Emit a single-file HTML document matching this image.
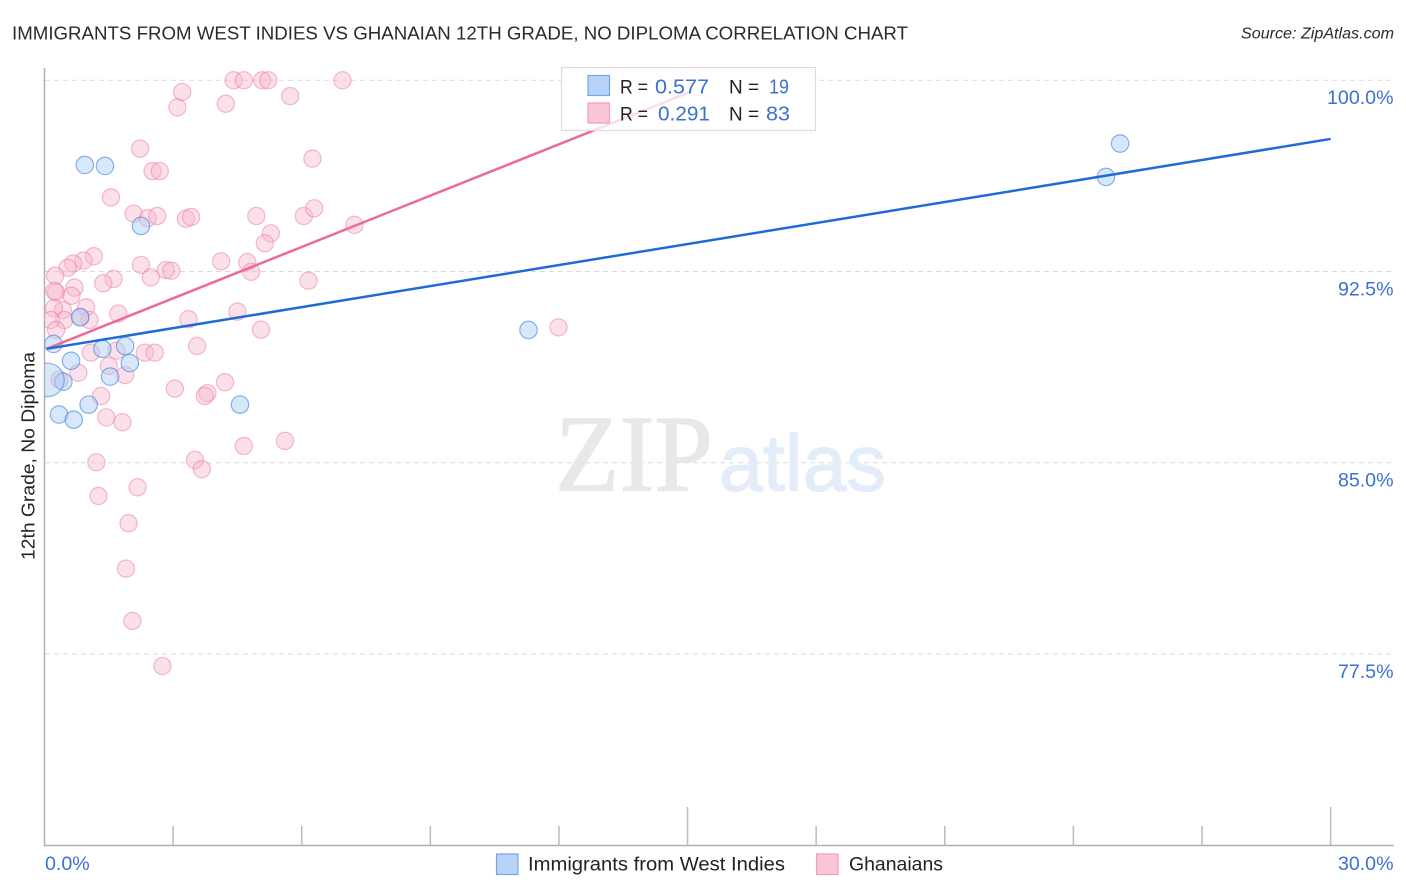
<!DOCTYPE html>
<html lang="en">
<head>
<meta charset="utf-8">
<title>Immigrants from West Indies vs Ghanaian 12th Grade, No Diploma Correlation Chart</title>
<style>
  html, body { margin: 0; padding: 0; background: #fff; }
  body { width: 1406px; height: 892px; overflow: hidden; }
  svg { display: block; }
  text { font-family: "Liberation Sans", sans-serif; }
  .tick-label { font-size: 19.6px; fill: #3d70d0; }
  .legend-label { font-size: 19.5px; fill: #222; }
  .legend-value { font-size: 20.5px; fill: #3d70d0; }
</style>
</head>
<body>
<svg id="chart" xmlns="http://www.w3.org/2000/svg" width="1406" height="892" viewBox="0 0 1406 892">
  <defs>
    <clipPath id="plot-clip"><rect x="45" y="60" width="1360" height="786"></rect></clipPath>
  </defs>
  <rect x="0" y="0" width="1406" height="892" fill="#ffffff"></rect>

  <text x="12" y="39.5" font-size="18.6" fill="#2a2a2a" textLength="896" lengthAdjust="spacingAndGlyphs">IMMIGRANTS FROM WEST INDIES VS GHANAIAN 12TH GRADE, NO DIPLOMA CORRELATION CHART</text>
  <text x="1241" y="38.5" font-size="15.5" font-style="italic" fill="#2a2a2a" textLength="153" lengthAdjust="spacingAndGlyphs">Source: ZipAtlas.com</text>

  <g id="grid-layer"></g>

  <g>
    <text x="555" y="490.7" font-size="109" style="font-family:'Liberation Serif',serif" fill="#e8e8e8" stroke="#e8e8e8" stroke-width="1.2" textLength="158" lengthAdjust="spacingAndGlyphs">ZIP</text>
    <text x="719" y="490.7" font-size="80" fill="#e3edf9" stroke="#e3edf9" stroke-width="1.2" textLength="167" lengthAdjust="spacingAndGlyphs">atlas</text>
  </g>

  <g id="axis-layer"></g>
  <g id="point-layer" clip-path="url(#plot-clip)"></g>
  <g id="line-layer"></g>

  <g>
    <rect x="561.5" y="67.5" width="254" height="63" fill="#ffffff" fill-opacity="0.78" stroke="#dcdcdc" stroke-width="1.2"></rect>
    <rect x="588" y="75.5" width="21.5" height="20" fill="#b8d3f7" stroke="#74a6e4" stroke-width="1.2"></rect>
    <text class="legend-label" x="620" y="93.3" textLength="28" lengthAdjust="spacingAndGlyphs">R =</text>
    <text class="legend-value" x="655" y="93.3" textLength="54" lengthAdjust="spacingAndGlyphs">0.577</text>
    <text class="legend-label" x="729" y="93.3" textLength="30" lengthAdjust="spacingAndGlyphs">N =</text>
    <text class="legend-value" x="769" y="93.3" textLength="20" lengthAdjust="spacingAndGlyphs">19</text>
    <rect x="588" y="103" width="21.5" height="20" fill="#fbc6d6" stroke="#ef9db8" stroke-width="1.2"></rect>
    <text class="legend-label" x="620" y="120.3" textLength="28" lengthAdjust="spacingAndGlyphs">R =</text>
    <text class="legend-value" x="658" y="120.3" textLength="52" lengthAdjust="spacingAndGlyphs">0.291</text>
    <text class="legend-label" x="729" y="120.3" textLength="30" lengthAdjust="spacingAndGlyphs">N =</text>
    <text class="legend-value" x="766" y="120.3" textLength="24" lengthAdjust="spacingAndGlyphs">83</text>
  </g>

  <text transform="translate(34.5,456) rotate(-90)" text-anchor="middle" font-size="18.5" fill="#222" textLength="208" lengthAdjust="spacingAndGlyphs">12th Grade, No Diploma</text>

  <g>
    <rect x="496.5" y="854" width="21.5" height="20.5" fill="#b8d3f7" stroke="#74a6e4" stroke-width="1.2"></rect>
    <text class="legend-label" x="528" y="870.7" textLength="257" lengthAdjust="spacingAndGlyphs">Immigrants from West Indies</text>
    <rect x="816.5" y="854" width="21.5" height="20.5" fill="#fbc6d6" stroke="#ef9db8" stroke-width="1.2"></rect>
    <text class="legend-label" x="849" y="870.7" textLength="94" lengthAdjust="spacingAndGlyphs">Ghanaians</text>
  </g>
</svg>

<script>
// Chart data (x = share in %, y = 12th grade, no diploma in %)
const yTickValues = [100, 92.5, 85, 77.5];
const yTickLabels = ["100.0%", "92.5%", "85.0%", "77.5%"];
const xTickValues = [3, 6, 9, 12, 15, 18, 21, 24, 27, 30];
const xMajorTicks = [15, 30];
const xEndLabels = ["0.0%", "30.0%"];

const blueX = [0.94, 1.41, 2.25, 0.21, 0.62, 1.35, 1.88, 1.99, 1.53, 0.44, 1.03, 0.34, 0.68, 4.56, 0.83, 0.07, 11.29, 24.76, 25.09];
const blueY = [96.68, 96.64, 94.29, 89.66, 89.00, 89.47, 89.58, 88.91, 88.38, 88.18, 87.28, 86.89, 86.69, 87.28, 90.71, 88.25, 90.21, 96.21, 97.52];
const blueWeight = [1, 1, 1, 1, 1, 1, 1, 1, 1, 1, 1, 1, 1, 1, 1, 3.7, 1, 1, 1];

const pinkX = [4.41, 4.65, 5.08, 5.22, 6.95, 3.21, 3.10, 4.23, 5.73, 2.23, 2.52, 2.69, 6.25, 1.55, 2.08, 2.41, 2.63, 3.30, 3.42, 4.94, 6.05, 6.29, 7.23, 5.28, 5.14, 1.15, 0.91, 0.67, 0.54, 0.25, 2.25, 4.12, 4.73, 4.82, 2.83, 2.96, 2.48, 1.61, 1.37, 6.16, 0.70, 0.27, 0.23, 0.63, 0.97, 0.43, 0.22, 1.72, 4.50, 3.36, 1.05, 0.46, 0.15, 0.84, 5.05, 3.56, 1.08, 1.68, 2.34, 2.57, 0.27, 0.79, 1.50, 1.88, 0.35, 1.32, 3.04, 3.80, 3.74, 4.21, 1.44, 1.82, 4.65, 5.61, 1.21, 3.51, 3.67, 1.26, 2.17, 1.96, 1.90, 2.05, 2.75, 11.99];
const pinkY = [100, 100, 100, 100, 100, 99.54, 98.94, 99.08, 99.38, 97.32, 96.44, 96.44, 96.93, 95.41, 94.77, 94.59, 94.68, 94.57, 94.64, 94.68, 94.68, 94.98, 94.33, 94.00, 93.61, 93.10, 92.93, 92.82, 92.65, 92.34, 92.76, 92.90, 92.87, 92.49, 92.56, 92.53, 92.27, 92.21, 92.04, 92.14, 91.87, 91.69, 91.74, 91.55, 91.10, 90.99, 91.06, 90.85, 90.93, 90.63, 90.60, 90.60, 90.60, 90.71, 90.22, 89.58, 89.32, 89.40, 89.32, 89.32, 90.21, 88.53, 88.80, 88.44, 88.25, 87.62, 87.91, 87.73, 87.62, 88.16, 86.78, 86.59, 85.66, 85.86, 85.02, 85.11, 84.75, 83.70, 84.04, 82.63, 80.85, 78.80, 77.03, 90.31];

const blueTrendX = [0.05, 30];
const blueTrendY = [89.47, 97.70];
const pinkTrendX = [0.05, 15.01];
const pinkTrendY = [89.47, 99.51];

// Axis functions
const scaleX = function (v) { return 44.5 + v * 42.87; };
const scaleY = function (v) { return 80.3 + (100 - v) * 25.5; };

const NS = "http://www.w3.org/2000/svg";
const gridLayer = document.getElementById("grid-layer");
const axisLayer = document.getElementById("axis-layer");
const pointLayer = document.getElementById("point-layer");
const lineLayer = document.getElementById("line-layer");

function make(tag, attrs, parent) {
  const el = document.createElementNS(NS, tag);
  Object.keys(attrs).forEach(function (k) { el.setAttribute(k, attrs[k]); });
  parent.appendChild(el);
  return el;
}

// Gridlines and y tick labels
yTickValues.forEach(function (v, i) {
  const grid = make("line", { x1: 45, x2: 1394, y1: scaleY(v), y2: scaleY(v), stroke: "#dadada", "stroke-width": 1, "stroke-dasharray": "5 4" }, gridLayer);
  
  
  const label = make("text", { x: 1393.5, y: scaleY(v) + 23.7, "text-anchor": "end", class: "tick-label" }, axisLayer);
  label.textContent = yTickLabels[i];
  
  
});

// Axis lines
const yAxis = make("line", { x1: scaleX(0), x2: scaleX(0), y1: 68, y2: 846, stroke: "#b0b0b0", "stroke-width": 1.5 }, axisLayer);


const xAxis = make("line", { x1: 44, x2: 1394, y1: 845.5, y2: 845.5, stroke: "#b0b0b0", "stroke-width": 1.5 }, axisLayer);



// X ticks
xTickValues.forEach(function (v) {
  const top = xMajorTicks.indexOf(v) >= 0 ? 807 : 826;
  const tick = make("line", { x1: scaleX(v), x2: scaleX(v), y1: top, y2: 845.5, stroke: "#bcbcbc", "stroke-width": 1.5 }, axisLayer);
  
  
});
const xLabelStart = make("text", { x: 45, y: 870, class: "tick-label" }, axisLayer);
xLabelStart.textContent = xEndLabels[0];


const xLabelEnd = make("text", { x: 1393.5, y: 870, "text-anchor": "end", class: "tick-label" }, axisLayer);
xLabelEnd.textContent = xEndLabels[1];



// Points: pink first, blue on top
pinkX.forEach(function (v, i) {
  const c = make("circle", { cx: scaleX(v), cy: scaleY(pinkY[i]), r: 8.6, fill: "#f8b6cb", "fill-opacity": 0.42, stroke: "#e9799f", "stroke-opacity": 0.5, "stroke-width": 1.2 }, pointLayer);
  
  
});
blueX.forEach(function (v, i) {
  const c = make("circle", { cx: scaleX(v), cy: scaleY(blueY[i]), r: 8.7 * Math.sqrt(blueWeight[i]), fill: "#a9cbf7", "fill-opacity": 0.45, stroke: "#4a8ae0", "stroke-opacity": 0.65, "stroke-width": 1.2 }, pointLayer);
  
  
});

// Trend lines
const pinkLine = make("line", { x1: scaleX(pinkTrendX[0]), y1: scaleY(pinkTrendY[0]), x2: scaleX(pinkTrendX[1]), y2: scaleY(pinkTrendY[1]), stroke: "#ec6a9a", "stroke-width": 2.5 }, lineLayer);


const blueLine = make("line", { x1: scaleX(blueTrendX[0]), y1: scaleY(blueTrendY[0]), x2: scaleX(blueTrendX[1]), y2: scaleY(blueTrendY[1]), stroke: "#1f6bd6", "stroke-width": 2.5 }, lineLayer);


</script>
</body>
</html>
